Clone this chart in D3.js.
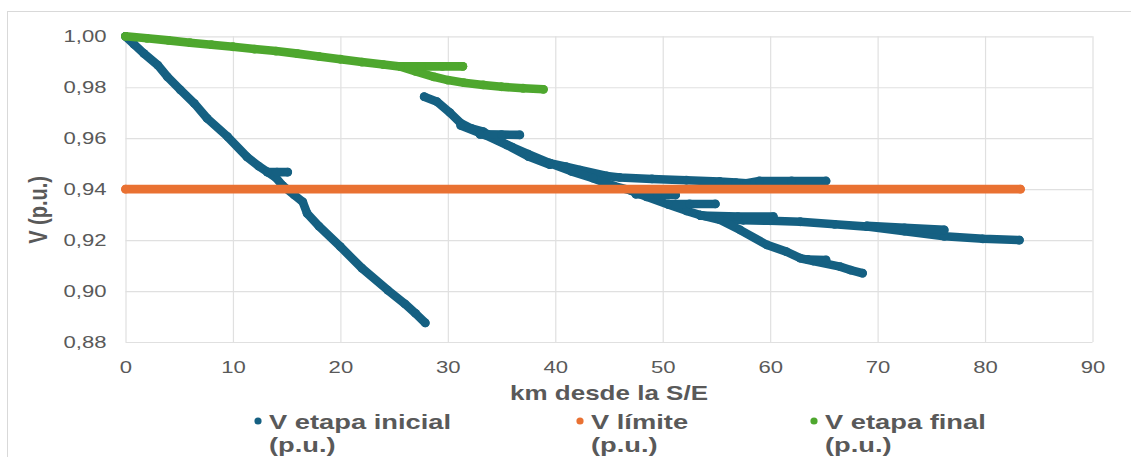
<!DOCTYPE html>
<html>
<head>
<meta charset="utf-8">
<script src="https://cdn.jsdelivr.net/npm/d3@7"></script>
<style>
body { margin: 0; background: #fff; }
svg text { font-family: "Liberation Sans", Arial, sans-serif; fill: #595959; }
</style>
</head>
<body>
<div id="chart"></div>
<script>
// ticks
var xTicks = [0, 10, 20, 30, 40, 50, 60, 70, 80, 90];
var yTicks = [0.88, 0.90, 0.92, 0.94, 0.96, 0.98, 1.00];

var seriesNames = ["V etapa inicial", "V límite", "V etapa final"];
var seriesColors = ["#156082", "#E97132", "#4EA72E"];

// V etapa inicial (p.u.) - tramos [km, V]
var inicialRamal1 = [[0,1.000],[0.8,0.9968],[1.7,0.9933],[3.0,0.9887],[3.9,0.9841],[5.1,0.9790],[6.4,0.9737],[7.6,0.9678],[9.5,0.9606],[11.3,0.9527],[12.4,0.9490],[13.2,0.9468],[14.0,0.9445],[14.6,0.9415],[15.7,0.9377],[16.5,0.9350],[16.9,0.9305],[18.0,0.9255],[20.0,0.9174],[22.0,0.9090],[24.4,0.9004],[26.0,0.8950],[27.0,0.8912],[27.9,0.8875]];
var inicialRamal1b = [[13.2,0.9467],[14.1,0.9467],[15.1,0.9467]];
var inicialRamal2 = [[27.8,0.9763],[29.0,0.9743],[30.2,0.9700],[31.2,0.9659],[32.2,0.9638],[33.3,0.9626],[34.6,0.9593],[36.0,0.9565],[37.5,0.9537],[39.5,0.9502],[41.0,0.9488],[42.3,0.9475],[44.8,0.9452],[46.0,0.9446],[49.0,0.9440],[52.2,0.9435],[55.3,0.9430],[56.8,0.9426],[57.8,0.9423],[59.0,0.9432],[62.0,0.9432],[65.2,0.9432]];
var inicialRamal2b = [[31.2,0.9650],[33.5,0.9612],[35.5,0.9573],[37.5,0.9528],[39.5,0.9496]];
var inicialRamal2c = [[33.0,0.9615],[35.0,0.9614],[36.7,0.9613]];
var inicialRamal3 = [[39.5,0.9502],[41.5,0.9470],[43.5,0.9443],[45.5,0.9412],[47.0,0.9395],[48.5,0.9370],[50.5,0.9340],[52.2,0.9315],[53.5,0.9298],[55.3,0.9286],[57.5,0.9278],[60.0,0.9276],[62.8,0.9272],[66.0,0.9262],[69.0,0.9253],[72.5,0.9235],[76.2,0.9215],[79.8,0.9205],[83.2,0.9200]];
var inicialRamal3b = [[47.5,0.9380],[49.5,0.9378],[51.2,0.9377]];
var inicialRamal3c = [[50.5,0.9342],[52.5,0.9342],[54.9,0.9342]];
var inicialRamal3d = [[53.5,0.9296],[57.0,0.9292],[60.3,0.9292]];
var inicialRamal3e = [[69.0,0.9256],[72.5,0.9248],[76.2,0.9240]];
var inicialRamal4 = [[53.5,0.9298],[55.3,0.9280],[57.2,0.9240],[59.7,0.9181],[61.5,0.9155],[62.8,0.9129],[64.0,0.9118],[66.5,0.9096],[67.5,0.9082],[68.6,0.9070]];
var inicialRamal4b = [[63.5,0.9124],[65.2,0.9122]];

// V limite (p.u.)
var limite = [[0,0.94],[83.3,0.94]];

// V etapa final (p.u.)
var finalRamal1 = [[0,1.000],[2,0.9992],[4,0.9984],[6,0.9975],[8,0.9967],[10,0.9959],[12,0.9950],[14,0.9942],[16,0.9932],[18,0.9921],[20,0.9910],[22,0.9899],[24,0.9889],[25.6,0.9881],[27,0.9862],[28.7,0.9841],[30,0.9828],[31.5,0.9818],[33.3,0.9809],[35,0.9802],[37,0.9796],[38.9,0.9792]];
var finalRamal2 = [[25.6,0.9882],[27.5,0.9882],[29.5,0.9882],[31.4,0.9882]];

var series = [
    [inicialRamal1, inicialRamal1b, inicialRamal2, inicialRamal2b, inicialRamal2c, inicialRamal3, inicialRamal3b, inicialRamal3c, inicialRamal3d, inicialRamal3e, inicialRamal4, inicialRamal4b],
    [limite],
    [finalRamal1, finalRamal2]
];

function init()
{
    var w = 1131;
    var h = 457;
    var stretch = 1.3; // el original esta estirado en horizontal

    var svg = d3.select("#chart")
        .append("svg")
        .attr("width", w)
        .attr("height", h);

    // marco del grafico
    svg.append("rect")
        .attr("x", 7.5).attr("y", 11.5)
        .attr("width", 1200).attr("height", 500)
        .attr("fill", "#fff")
        .attr("stroke", "#d9d9d9");

    var xScale = d3.scaleLinear().domain([0, 90]).range([125.5, 1092.5]);
    var yScale = d3.scaleLinear().domain([0.88, 1.00]).range([342, 36.3]);

    var es = d3.formatLocale({ decimal: ",", thousands: ".", grouping: [3], currency: ["", "€"] });

    // grid
    svg.append("g")
        .attr("transform", "translate(0," + yScale(0.88) + ")")
        .call(d3.axisBottom(xScale).tickValues(xTicks).tickSize(-(yScale(0.88) - yScale(1.0))).tickFormat(""))
        .call(function(g) { g.select(".domain").remove(); })
        .selectAll("line").attr("stroke", "#e0e0e0").attr("stroke-width", 1.2);

    svg.append("g")
        .attr("transform", "translate(" + xScale(0) + ",0)")
        .call(d3.axisLeft(yScale).tickValues(yTicks).tickSize(-(xScale(90) - xScale(0))).tickFormat(""))
        .call(function(g) { g.select(".domain").remove(); })
        .selectAll("line").attr("stroke", "#e0e0e0").attr("stroke-width", 1.2);

    // tick labels
    var yAxis = svg.append("g")
        .attr("transform", "translate(" + xScale(0) + ",0)")
        .call(d3.axisLeft(yScale).tickValues(yTicks).tickSize(0).tickPadding(0).tickFormat(es.format(".2f")));
    yAxis.select(".domain").remove();
    yAxis.selectAll("text")
        .attr("x", 0)
        .attr("transform", "translate(-19,0) scale(" + stretch + ",1)")
        .style("font-size", "17px")
        .attr("fill", "#595959");

    var xAxis = svg.append("g")
        .attr("transform", "translate(0," + yScale(0.88) + ")")
        .call(d3.axisBottom(xScale).tickValues(xTicks).tickSize(0).tickPadding(0).tickFormat(es.format("d")));
    xAxis.select(".domain").remove();
    xAxis.selectAll("text")
        .attr("y", 0)
        .attr("transform", "translate(0,19) scale(" + stretch + ",1)")
        .style("font-size", "17px")
        .attr("fill", "#595959");

    // axis titles
    svg.append("text")
        .attr("transform", "translate(" + ((xScale(0) + xScale(90)) / 2) + ",400) scale(" + stretch + ",1)")
        .attr("text-anchor", "middle")
        .style("font-size", "20px")
        .style("font-weight", "bold")
        .text("km desde la S/E");

    svg.append("text")
        .attr("transform", "translate(47,210) rotate(-90) scale(1," + stretch + ")")
        .attr("text-anchor", "middle")
        .style("font-size", "20px")
        .style("font-weight", "bold")
        .text("V (p.u.)");

    // series
    var line = d3.line()
        .x(function(d) { return xScale(d[0]); })
        .y(function(d) { return yScale(d[1]); });

    series.forEach(function(tramos, i) {
        var g = svg.append("g");
        tramos.forEach(function(tramo) {
            g.append("path")
                .datum(tramo)
                .attr("d", line)
                .attr("fill", "none")
                .attr("stroke", seriesColors[i])
                .attr("stroke-width", 8.6)
                .attr("stroke-linecap", "round")
                .attr("stroke-linejoin", "round");
            g.selectAll(null)
                .data(tramo)
                .enter()
                .append("circle")
                .attr("cx", function(d) { return xScale(d[0]); })
                .attr("cy", function(d) { return yScale(d[1]); })
                .attr("r", 4.4)
                .attr("fill", seriesColors[i]);
        });
    });

    // legend
    var legendX = [258, 580, 814];
    var legend = svg.selectAll(".legend")
        .data(seriesNames)
        .enter()
        .append("g")
        .attr("class", "legend")
        .attr("transform", function(d, i) { return "translate(" + legendX[i] + ",0)"; });

    legend.append("circle")
        .attr("cx", 0).attr("cy", 421)
        .attr("r", 3.6)
        .attr("fill", function(d, i) { return seriesColors[i]; });

    legend.append("text")
        .attr("transform", "translate(11,429) scale(" + stretch + ",1)")
        .style("font-size", "21px")
        .style("font-weight", "bold")
        .text(function(d) { return d; });

    legend.append("text")
        .attr("transform", "translate(11,452) scale(" + stretch + ",1)")
        .style("font-size", "21px")
        .style("font-weight", "bold")
        .text("(p.u.)");
}

window.onload = init;
</script>
</body>
</html>
